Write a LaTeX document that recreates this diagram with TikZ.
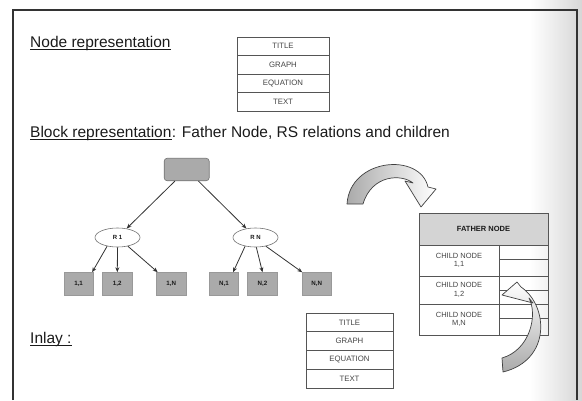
\documentclass[tikz,border=0pt]{standalone}
\usepackage{fontspec}
\setmainfont{Liberation Sans}
\usetikzlibrary{arrows.meta,shapes.geometric}
\definecolor{ink}{HTML}{1A1A1A}
\definecolor{rule}{HTML}{555555}
\definecolor{boxgray}{HTML}{AAAAAA}
\definecolor{headgray}{HTML}{D4D4D4}
\definecolor{cellink}{HTML}{444444}
\begin{document}
\begin{tikzpicture}[x=1pt,y=-1pt,
  heading/.style={inner sep=0pt, anchor=base west, font=\fontsize{15.5}{18}\selectfont, text=ink},
  uline/.style={ink, line width=0.8pt},
  cell/.style={draw=rule, line width=0.6pt, inner sep=0pt, minimum height=18.5pt,
    font=\fontsize{7.8}{9}\selectfont, text=cellink},
  tcell/.style={draw=rule, line width=0.6pt, inner sep=0pt, align=center,
    font=\fontsize{7.5}{8.5}\selectfont, text=cellink},
  rootbox/.style={draw=black!55, fill=boxgray, rounded corners=3pt, line width=0.6pt,
    minimum width=45pt, minimum height=22.5pt},
  rel/.style={ellipse, draw=black!55, fill=white, line width=0.6pt, inner sep=0pt,
    minimum width=45pt, minimum height=19pt, font=\bfseries\fontsize{6}{7}\selectfont, text=ink},
  leaf/.style={draw=black!40, fill=boxgray, line width=0.6pt, inner sep=0pt,
    minimum width=29.5pt, minimum height=22.5pt, font=\bfseries\fontsize{6.2}{7}\selectfont, text=ink},
  link/.style={draw=black!80, line width=0.8pt, -{Stealth[length=5pt,width=4pt]}},
  bendarrow/.style={draw=black!75, line width=0.7pt, line join=round}
]
\useasboundingbox (0,0) rectangle (582,400);

% grey scan haze along the right edge
\shade[left color=white, right color=black!16] (530,0) rectangle (582,400);

% page frame
\draw[black!80, line width=1.3pt] (13,400) -- (13,10) -- (577,10) -- (577,400);

% --- node representation ---
\node[heading] (nrep) at (30,47) {Node representation};
\draw[uline] ([yshift=-2pt]nrep.base west) -- ([yshift=-2pt]nrep.base east);

\node[cell, minimum width=92pt] (t1) at (283,46.25) {TITLE};
\node[cell, minimum width=92pt] (t2) at (283,64.75) {GRAPH};
\node[cell, minimum width=92pt] (t3) at (283,83.25) {EQUATION};
\node[cell, minimum width=92pt] (t4) at (283,101.75) {TEXT};

% --- block representation ---
\node[heading] (brep) at (30,137) {Block representation};
\draw[uline] ([yshift=-2pt]brep.base west) -- ([yshift=-2pt]brep.base east);
\node[heading] (bdesc) at (brep.base east) {: Father Node, RS relations and children};

% tree: father node, relations, children
\node[rootbox] (root) at (186.7,169.5) {};
\node[rel] (r1) at (117.5,237.5) {R 1};
\node[rel] (rn) at (255.5,237.5) {R N};

\node[leaf] (l11) at (78.6,283.8) {1,1};
\node[leaf] (l12) at (117.3,283.8) {1,2};
\node[leaf] (l1n) at (171.3,283.8) {1,N};
\node[leaf] (ln1) at (224.0,283.8) {N,1};
\node[leaf] (ln2) at (262.5,283.8) {N,2};
\node[leaf] (lnn) at (316.8,283.8) {N,N};

\draw[link] (root) -- (r1);
\draw[link] (root) -- (rn);
\draw[link] (r1.220) -- ([xshift=-1.5pt]l11.north east);
\draw[link] (r1.270) -- (l12.north);
\draw[link] (r1.320) -- ([xshift=1.5pt]l1n.north west);
\draw[link] (rn.220) -- ([xshift=-6pt]ln1.north east);
\draw[link] (rn.275) -- (ln2.north);
\draw[link] (rn.320) -- ([xshift=0.5pt]lnn.north west);

% --- block table ---
\node[tcell, fill=headgray, minimum width=129pt, minimum height=32pt,
  font=\bfseries\fontsize{7.5}{8.5}\selectfont, text=ink] (fh) at (483.5,229) {FATHER NODE};
\node[tcell, minimum width=80pt, minimum height=31pt] (c1) at (459,260.5) {CHILD NODE\\1,1};
\node[tcell, minimum width=80pt, minimum height=28pt] (c2) at (459,290) {CHILD NODE\\1,2};
\node[tcell, minimum width=80pt, minimum height=31pt] (c3) at (459,319.5) {CHILD NODE\\M,N};
\node[tcell, minimum width=49pt, minimum height=14pt] (s1a) at (523.5,252) {};
\node[tcell, minimum width=49pt, minimum height=17pt] (s1b) at (523.5,267.5) {};
\node[tcell, minimum width=49pt, minimum height=14pt] (s2a) at (523.5,283) {};
\node[tcell, minimum width=49pt, minimum height=14pt] (s2b) at (523.5,297) {};
\node[tcell, minimum width=49pt, minimum height=14pt] (s3a) at (523.5,311) {};
\node[tcell, minimum width=49pt, minimum height=17pt] (s3b) at (523.5,326.5) {};

% curved block arrows
\draw[bendarrow, left color=boxgray, right color=white]
  (347,204) .. controls (350,158) and (420,152) .. (428,187)
  -- (436,189) -- (421,207) -- (405,181) -- (413,183)
  .. controls (402,174) and (372,174) .. (363,204) -- cycle;
\draw[bendarrow, top color=white, bottom color=boxgray]
  (503,372) .. controls (552,360) and (548,305) .. (521,287)
  -- (517,282) -- (502,295) -- (533,303) -- (529,298)
  .. controls (538,315) and (530,350) .. (502,358) -- cycle;

% --- inlay ---
\node[heading] (inl) at (30,343) {Inlay :};
\draw[uline] ([yshift=-2pt]inl.base west) -- ([yshift=-2pt]inl.base east);

\node[cell, minimum width=87pt, minimum height=18.75pt] (b1) at (349.5,322.4) {TITLE};
\node[cell, minimum width=87pt, minimum height=18.75pt] (b2) at (349.5,341.1) {GRAPH};
\node[cell, minimum width=87pt, minimum height=18.75pt] (b3) at (349.5,359.9) {EQUATION};
\node[cell, minimum width=87pt, minimum height=18.75pt] (b4) at (349.5,378.6) {TEXT};
\end{tikzpicture}
\end{document}
